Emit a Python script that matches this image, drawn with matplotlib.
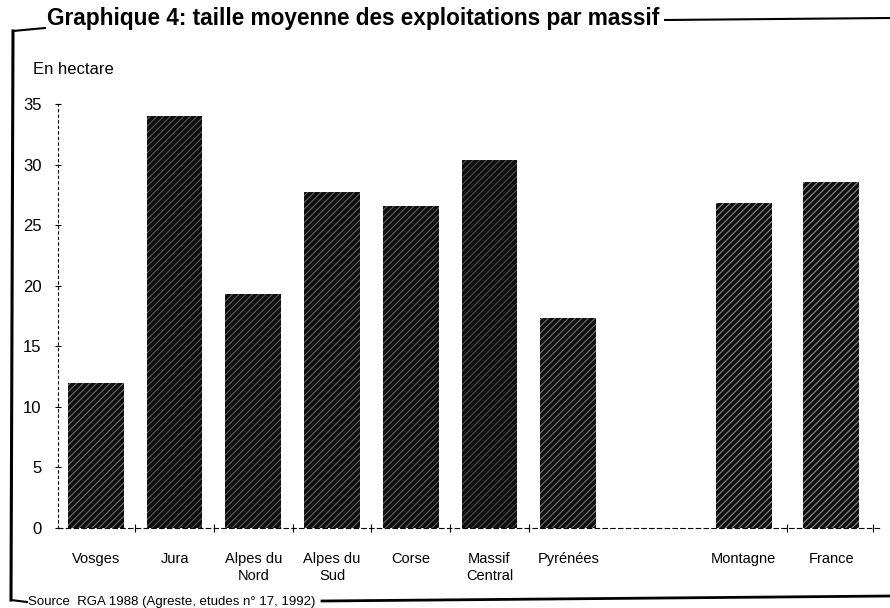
import matplotlib.pyplot as plt
from matplotlib.lines import Line2D

plt.rcParams['font.family'] = ['Liberation Sans', 'DejaVu Sans']
plt.rcParams['hatch.linewidth'] = 0.8

# data
massifs = ['Vosges', 'Jura', 'Alpes du\nNord', 'Alpes du\nSud', 'Corse',
           'Massif\nCentral', 'Pyrénées', 'Montagne', 'France']
taille = [12.0, 34.0, 19.3, 27.7, 26.6, 30.4, 17.3, 26.8, 28.6]
xpos = [0, 1, 2, 3, 4, 5, 6, 8.23, 9.34]

# scanned bar look: dark fill, light hatch
hatch_cols = ['#6a6a6a', '#555555', '#5a5a5a', '#606060', '#5e5e5e',
              '#4a4a4a', '#707070', '#858585', '#8a8a8a']

W, H = 890, 608
def fx(x):
    return x / W
def fy(y):
    return 1 - y / H

fig = plt.figure(figsize=(8.9, 6.08), dpi=100)
ax = fig.add_axes([fx(58), fy(528), fx(880) - fx(58), fy(104) - fy(528)])

for x, v, c in zip(xpos, taille, hatch_cols):
    ax.bar(x, v, width=0.71, color='#0e0e0e', edgecolor=c, hatch='/////', linewidth=0)

ax.set_ylim(0, 35)
ax.set_xlim(-0.48, 9.96)

ax.set_yticks(range(0, 36, 5))
ax.tick_params(axis='y', direction='inout', length=4, width=0.8, pad=10, labelsize=12)
ax.set_xticks(xpos, massifs)
ax.tick_params(axis='x', length=0, pad=17, labelsize=10.5)
for lab in ax.get_xticklabels():
    lab.set_linespacing(1.3)
    lab.set_verticalalignment('top')

# small marks between the bars
mids = [(a + b) / 2 for a, b in zip(xpos[:-1], xpos[1:]) if b - a < 1.5]
mids.append(xpos[-1] + 0.53)
ax.set_xticks(mids, minor=True)
ax.tick_params(axis='x', which='minor', direction='inout', length=6, width=0.8)

for s in ['top', 'right']:
    ax.spines[s].set_visible(False)
ax.spines['left'].set_linestyle((0, (2, 3)))
ax.spines['left'].set_linewidth(0.8)
ax.spines['bottom'].set_linestyle((0, (4, 3)))
ax.spines['bottom'].set_linewidth(0.8)

fig.text(fx(33), fy(69), 'En hectare', fontsize=12, va='center', ha='left')

fig.text(fx(47), fy(25), 'Graphique 4: taille moyenne des exploitations par massif',
         fontsize=16.3, fontweight='bold', ha='left', va='baseline')
fig.text(fx(28), fy(602), 'Source  RGA 1988 (Agreste, etudes n° 17, 1992)',
         fontsize=9.5, ha='left', va='center')

# frame around the chart
frame = [
    ([13, 11], [31, 600], 2.2),
    ([13, 45], [31, 28], 1.5),
    ([665, 890], [20, 18], 1.5),
    ([11, 27], [600, 602], 1.5),
    ([322, 890], [601, 596], 2.0),
]
for xs, ys, lw in frame:
    fig.add_artist(Line2D([fx(v) for v in xs], [fy(v) for v in ys], color='black', lw=lw))

fig.savefig('out.png', dpi=100)
